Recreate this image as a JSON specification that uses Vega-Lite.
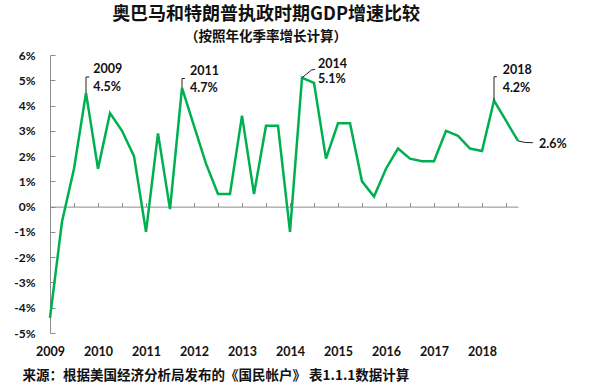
{
  "$schema": "https://vega.github.io/schema/vega-lite/v6.json",
  "width": 468,
  "height": 278,
  "autosize": {"type": "none"},
  "padding": {"left": 50, "top": 55, "right": 82, "bottom": 52},
  "background": "white",
  "title": {
    "text": "奥巴马和特朗普执政时期GDP增速比较",
    "subtitle": "（按照年化季率增长计算）",
    "anchor": "middle",
    "dx": -18,
    "offset": 6,
    "font": "Noto Sans CJK SC",
    "fontSize": 18,
    "fontWeight": "bold",
    "color": "#111",
    "subtitleFont": "Noto Sans CJK SC",
    "subtitleFontSize": 13.5,
    "subtitleFontWeight": "bold",
    "subtitleColor": "#111",
    "subtitlePadding": 6
  },
  "config": {
    "view": {"stroke": null},
    "axis": {
      "labelFont": "Lato",
      "labelFontWeight": "bold",
      "labelFontSize": 12,
      "labelColor": "#111",
      "domainColor": "#8c8c8c",
      "tickColor": "#8c8c8c",
      "grid": false,
      "labelOverlap": false,
      "labelFlush": false
    }
  },
  "datasets": {
    "gdp": [
      {"t": 2009.0, "v": -4.4}, {"t": 2009.25, "v": -0.6}, {"t": 2009.5, "v": 1.5}, {"t": 2009.75, "v": 4.5},
      {"t": 2010.0, "v": 1.5}, {"t": 2010.25, "v": 3.7}, {"t": 2010.5, "v": 3.0}, {"t": 2010.75, "v": 2.0},
      {"t": 2011.0, "v": -1.0}, {"t": 2011.25, "v": 2.9}, {"t": 2011.5, "v": -0.1}, {"t": 2011.75, "v": 4.7},
      {"t": 2012.0, "v": 3.2}, {"t": 2012.25, "v": 1.7}, {"t": 2012.5, "v": 0.5}, {"t": 2012.75, "v": 0.5},
      {"t": 2013.0, "v": 3.6}, {"t": 2013.25, "v": 0.5}, {"t": 2013.5, "v": 3.2}, {"t": 2013.75, "v": 3.2},
      {"t": 2014.0, "v": -1.0}, {"t": 2014.25, "v": 5.1}, {"t": 2014.5, "v": 4.9}, {"t": 2014.75, "v": 1.9},
      {"t": 2015.0, "v": 3.3}, {"t": 2015.25, "v": 3.3}, {"t": 2015.5, "v": 1.0}, {"t": 2015.75, "v": 0.4},
      {"t": 2016.0, "v": 1.5}, {"t": 2016.25, "v": 2.3}, {"t": 2016.5, "v": 1.9}, {"t": 2016.75, "v": 1.8},
      {"t": 2017.0, "v": 1.8}, {"t": 2017.25, "v": 3.0}, {"t": 2017.5, "v": 2.8}, {"t": 2017.75, "v": 2.3},
      {"t": 2018.0, "v": 2.2}, {"t": 2018.25, "v": 4.2}, {"t": 2018.5, "v": 3.4}, {"t": 2018.75, "v": 2.6}
    ],
    "leaders": [
      {"g": "a", "o": 1, "t": 2009.75, "v": 4.5}, {"g": "a", "o": 2, "t": 2009.75, "v": 5.13}, {"g": "a", "o": 3, "t": 2009.82, "v": 5.13},
      {"g": "b", "o": 1, "t": 2011.75, "v": 4.7}, {"g": "b", "o": 2, "t": 2011.75, "v": 5.07}, {"g": "b", "o": 3, "t": 2011.81, "v": 5.07},
      {"g": "c", "o": 1, "t": 2014.25, "v": 5.1}, {"g": "c", "o": 2, "t": 2014.45, "v": 5.41}, {"g": "c", "o": 3, "t": 2014.52, "v": 5.43},
      {"g": "d", "o": 1, "t": 2018.25, "v": 4.2}, {"g": "d", "o": 2, "t": 2018.25, "v": 5.14}, {"g": "d", "o": 3, "t": 2018.31, "v": 5.14},
      {"g": "e", "o": 1, "t": 2018.75, "v": 2.6}, {"g": "e", "o": 2, "t": 2018.9, "v": 2.54}, {"g": "e", "o": 3, "t": 2019.06, "v": 2.53}
    ],
    "labels": [
      {"t": 2009.9, "v": 5.45, "label": "2009"}, {"t": 2009.9, "v": 4.74, "label": "4.5%"},
      {"t": 2011.917, "v": 5.37, "label": "2011"}, {"t": 2011.917, "v": 4.71, "label": "4.7%"},
      {"t": 2014.583, "v": 5.66, "label": "2014"}, {"t": 2014.583, "v": 5.04, "label": "5.1%"},
      {"t": 2018.43, "v": 5.41, "label": "2018"}, {"t": 2018.43, "v": 4.71, "label": "4.2%"},
      {"t": 2019.19, "v": 2.47, "label": "2.6%"}
    ]
  },
  "resolve": {"scale": {"x": "shared", "y": "shared"}, "axis": {"x": "independent", "y": "independent"}},
  "layer": [
    {
      "data": {"name": "gdp"},
      "mark": {"type": "line", "color": "#00B050", "strokeWidth": 2.5, "clip": false},
      "encoding": {
        "x": {
          "field": "t", "type": "quantitative",
          "scale": {"domain": [2009, 2018.75], "nice": false, "zero": false},
          "axis": {
            "orient": "bottom",
            "values": [2009, 2010, 2011, 2012, 2013, 2014, 2015, 2016, 2017, 2018],
            "format": "d",
            "domain": false,
            "ticks": false,
            "labelPadding": 12,
            "labelFontSize": 12.5,
            "title": "来源：根据美国经济分析局发布的《国民帐户》 表1.1.1数据计算",
            "titleFont": "Noto Sans CJK SC",
            "titleFontSize": 13.5,
            "titleFontWeight": "bold",
            "titleColor": "#111",
            "titleAnchor": "start",
            "titleAlign": "left",
            "titleBaseline": "alphabetic",
            "titleX": -28,
            "titleY": 46
          }
        },
        "y": {
          "field": "v", "type": "quantitative",
          "scale": {"domain": [-5, 6], "nice": false, "zero": false},
          "axis": {
            "orient": "left",
            "title": null,
            "values": [-5, -4, -3, -2, -1, 0, 1, 2, 3, 4, 5, 6],
            "labelExpr": "datum.value + '%'",
            "labelBound": false,
            "tickSize": -5,
            "labelPadding": 20
          }
        }
      }
    },
    {
      "data": {"name": "leaders"},
      "mark": {"type": "line", "color": "#222", "strokeWidth": 1, "clip": false},
      "encoding": {
        "x": {
          "field": "t", "type": "quantitative",
          "scale": {"domain": [2009, 2018.75], "nice": false, "zero": false},
          "axis": {
            "orient": "bottom",
            "offset": -126.36,
            "values": [2009.5, 2010, 2010.5, 2011, 2011.5, 2012, 2012.5, 2013, 2013.5, 2014, 2014.5, 2015, 2015.5, 2016, 2016.5, 2017, 2017.5, 2018, 2018.5],
            "labels": false,
            "tickSize": -4,
            "title": null
          }
        },
        "y": {"field": "v", "type": "quantitative", "axis": null},
        "detail": {"field": "g"},
        "order": {"field": "o"}
      }
    },
    {
      "data": {"name": "labels"},
      "mark": {"type": "text", "align": "left", "baseline": "middle", "font": "Lato", "fontWeight": "bold", "fontSize": 12.5, "color": "#111", "clip": false},
      "encoding": {
        "x": {"field": "t", "type": "quantitative", "axis": null},
        "y": {"field": "v", "type": "quantitative", "axis": null},
        "text": {"field": "label"}
      }
    }
  ]
}
